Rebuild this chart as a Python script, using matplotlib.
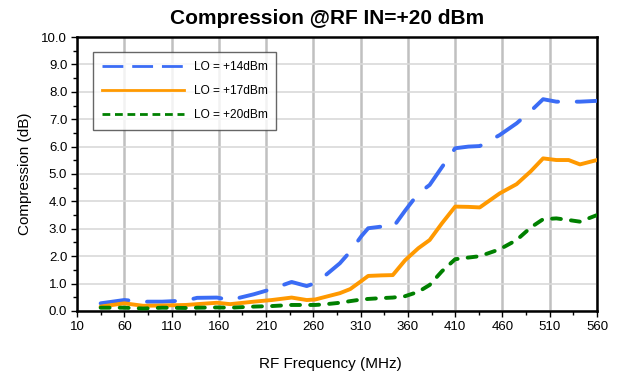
import matplotlib.pyplot as plt
from matplotlib.lines import Line2D
from matplotlib.ticker import FormatStrFormatter, MultipleLocator

plt.rcParams['font.family'] = ['Liberation Sans', 'DejaVu Sans']

freq = [35, 60, 80, 100, 125, 137, 158, 172, 197, 216, 237, 253, 262, 271, 288,
        299, 311, 318, 332, 344, 357, 371, 383, 396, 410, 424, 436, 457, 475, 490,
        503, 517, 530, 542, 560]

lo_14 = [0.28, 0.40, 0.34, 0.34, 0.38, 0.48, 0.49, 0.40, 0.61, 0.80, 1.06, 0.91,
         1.02, 1.25, 1.74, 2.17, 2.74, 3.02, 3.08, 3.04, 3.66, 4.29, 4.60, 5.25,
         5.94, 6.00, 6.02, 6.42, 6.85, 7.30, 7.73, 7.64, 7.64, 7.64, 7.67]

lo_17 = [0.16, 0.28, 0.19, 0.20, 0.22, 0.25, 0.30, 0.25, 0.34, 0.40, 0.49, 0.40,
         0.42, 0.50, 0.65, 0.80, 1.10, 1.28, 1.30, 1.31, 1.85, 2.29, 2.59, 3.20,
         3.81, 3.80, 3.78, 4.29, 4.63, 5.10, 5.57, 5.51, 5.51, 5.35, 5.51]

lo_20 = [0.12, 0.12, 0.09, 0.12, 0.11, 0.12, 0.13, 0.12, 0.16, 0.18, 0.22, 0.22,
         0.22, 0.24, 0.30, 0.36, 0.42, 0.44, 0.47, 0.49, 0.54, 0.70, 0.95, 1.45,
         1.89, 1.95, 2.00, 2.25, 2.59, 3.05, 3.35, 3.38, 3.32, 3.26, 3.50]

labels = ['LO = +14dBm', 'LO = +17dBm', 'LO = +20dBm']
colors = ['#3b6cf5', '#ff9900', '#008000']

x_major = list(range(10, 561, 50))
x_minor = list(range(35, 561, 50))

fig = plt.figure(figsize=(6.18, 3.75), dpi=100)
ax = fig.add_axes([0.1246, 0.1707, 0.8414, 0.7306])

ax.plot(freq, lo_14, color=colors[0], lw=2.8, dashes=(7.2, 4.8),
        dash_capstyle='round', solid_capstyle='round', zorder=3)
ax.plot(freq, lo_17, color=colors[1], lw=2.8, solid_capstyle='round', zorder=3)
ax.plot(freq, lo_20, color=colors[2], lw=2.8, dashes=(2.3, 2.6),
        dash_capstyle='round', zorder=3)

ax.set_xlim(10, 560)
ax.set_ylim(0, 10)
ax.set_xticks(x_major)
ax.set_xticks(x_minor, minor=True)
ax.yaxis.set_major_locator(MultipleLocator(1))
ax.yaxis.set_minor_locator(MultipleLocator(0.5))
ax.yaxis.set_major_formatter(FormatStrFormatter('%.1f'))

ax.grid(axis='x', which='major', color='#c0c0c0', lw=1.8, zorder=0)
ax.grid(axis='y', which='major', color='#d9d9d9', lw=1.2, zorder=0)
ax.set_axisbelow(True)

for s in ax.spines.values():
    s.set_linewidth(1.8)
    s.set_color('black')

ax.tick_params(which='both', direction='out', labelsize=9.5, width=1, pad=3)
ax.tick_params(which='major', length=4)
ax.tick_params(which='minor', length=3)

ax.text(0.48, 1.069, 'Compression @RF IN=+20 dBm', transform=ax.transAxes,
        ha='center', va='center', fontsize=15, fontweight='bold')
ax.set_xlabel('RF Frequency (MHz)', fontsize=11, va='center')
ax.xaxis.set_label_coords(0.487, -0.193)
ax.set_ylabel('Compression (dB)', fontsize=11, va='center')
ax.yaxis.set_label_coords(-0.1, 0.5)

# legend keys use a thinner line with shorter dashes
handles = [
    Line2D([], [], color=colors[0], lw=2.0, dashes=(7.5, 3.2)),
    Line2D([], [], color=colors[1], lw=2.0),
    Line2D([], [], color=colors[2], lw=2.0, dashes=(2.8, 1.7)),
]
leg = ax.legend(handles, labels, loc='upper left', bbox_to_anchor=(0.03, 0.945),
                fontsize=8.6, frameon=True, fancybox=False, handlelength=6.9,
                handletextpad=0.8, labelspacing=1.0, borderpad=0.75,
                borderaxespad=0)
leg.get_frame().set_edgecolor('#404040')
leg.get_frame().set_linewidth(1.0)

fig.savefig('out.png', dpi=100)
